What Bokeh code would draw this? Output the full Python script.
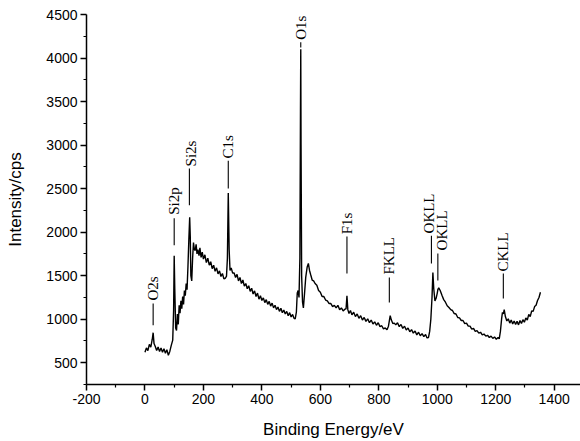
import math
from bokeh.plotting import figure
from bokeh.models import FixedTicker, Range1d, ColumnDataSource
from bokeh.core.properties import value
from bokeh.embed import file_html
from bokeh.resources import INLINE

energy = [0, 5, 10, 15, 20, 25, 28, 31, 35, 40, 45, 50, 55, 60, 65, 70, 75, 80, 85, 90, 95, 98,
          100, 102, 105, 108, 111, 114, 117, 120, 123, 126, 129, 132, 135, 138, 141, 144, 147, 150,
          153, 155, 157, 160, 163, 166, 169, 172, 175, 178, 181, 185, 188, 192, 196, 200, 205, 210,
          215, 220, 225, 230, 235, 240, 245, 250, 255, 260, 265, 270, 275, 279, 282, 285, 288, 291,
          295, 300, 305, 310, 315, 320, 325, 330, 335, 340, 345, 350, 355, 360, 365, 370, 375, 380,
          385, 390, 395, 400, 405, 410, 415, 420, 425, 430, 435, 440, 445, 450, 455, 460, 465, 470,
          475, 480, 485, 490, 495, 500, 505, 510, 514, 518, 521, 524, 527, 530, 532, 533, 534, 536,
          539, 542, 546, 550, 555, 559, 563, 567, 572, 577, 582, 588, 594, 600, 606, 612, 618, 624,
          630, 636, 642, 648, 654, 660, 666, 672, 678, 684, 688, 691, 694, 698, 703, 708, 714, 720,
          726, 732, 738, 744, 750, 756, 762, 768, 774, 780, 786, 792, 798, 804, 810, 816, 822, 828,
          833, 836, 839, 843, 848, 853, 858, 864, 870, 876, 882, 888, 894, 900, 906, 912, 918, 924,
          930, 936, 942, 948, 954, 960, 965, 970, 974, 978, 982, 985, 988, 992, 996, 1000, 1002,
          1005, 1010, 1016, 1022, 1028, 1034, 1040, 1046, 1052, 1058, 1064, 1070, 1076, 1082, 1088,
          1094, 1100, 1106, 1112, 1118, 1124, 1130, 1136, 1142, 1148, 1154, 1160, 1166, 1172, 1178,
          1184, 1190, 1196, 1202, 1208, 1212, 1216, 1220, 1223, 1226, 1229, 1233, 1238, 1243, 1248,
          1253, 1258, 1263, 1268, 1273, 1278, 1283, 1288, 1293, 1298, 1303, 1308, 1313, 1318, 1323,
          1328, 1333, 1338, 1343, 1348, 1353]

intensity = [620, 670, 640, 710, 680, 770, 845, 720, 690, 640, 680, 630, 670, 620, 660, 610, 650, 585, 630, 700, 760, 1100,
             1730, 1350, 900, 870, 1060, 940, 1160, 1070, 1210, 1120, 1260, 1170, 1330, 1270, 1410, 1340, 1600, 1900,
             2170, 1950, 1500, 1440, 1700, 1880, 1800, 1790, 1860, 1750, 1800, 1730, 1820, 1710, 1770, 1690, 1740, 1650,
             1700, 1620, 1660, 1580, 1620, 1550, 1590, 1520, 1555, 1490, 1525, 1465, 1470, 1495, 1700, 2450, 1800, 1560,
             1590, 1530, 1530, 1480, 1515, 1440, 1480, 1410, 1450, 1380, 1410, 1350, 1385, 1320, 1355, 1290, 1325, 1260,
             1300, 1230, 1270, 1215, 1245, 1190, 1225, 1170, 1205, 1150, 1185, 1130, 1160, 1110, 1140, 1090, 1125, 1075,
             1105, 1060, 1090, 1040, 1075, 1025, 1055, 1010, 1005, 1080, 1300, 1330, 1250, 1700, 3400, 4100, 3000, 1500,
             1200, 1130, 1300, 1480, 1600, 1640, 1560, 1510, 1450, 1440, 1410, 1390, 1330, 1310, 1260, 1260, 1220, 1210,
             1180, 1180, 1145, 1160, 1130, 1160, 1110, 1130, 1095, 1115, 1120, 1270, 1110, 1065, 1100, 1050, 1080, 1030,
             1060, 1010, 1040, 990, 1020, 975, 1005, 960, 990, 945, 970, 930, 960, 915, 925, 890, 900, 880, 920,
             980, 1040, 990, 950, 955, 935, 960, 915, 940, 895, 920, 875, 900, 855, 880, 840, 865, 820,
             850, 810, 835, 800, 825, 785, 790, 860, 1000, 1250, 1535, 1350, 1210, 1240, 1300, 1340, 1360,
             1330, 1275, 1225, 1195, 1155, 1135, 1110, 1100, 1065, 1060, 1020, 1015, 985, 985, 950,
             955, 920, 920, 885, 895, 860, 870, 840, 850, 820, 830, 805, 815, 790, 805,
             780, 795, 770, 790, 775, 860, 1000, 1080, 1060, 1110, 1030, 980, 1005, 955, 990,
             945, 980, 940, 975, 935, 985, 950, 995, 965, 1015, 990, 1055, 1030, 1095, 1090,
             1145, 1160, 1215, 1250, 1310, 1370]

peak_names = ["O2s", "Si2p", "Si2s", "C1s", "O1s", "F1s", "FKLL", "OKLL", "OKLL", "CKLL"]
peak_energy = [28, 100, 152, 285, 533, 691, 836, 980, 1002, 1226]
label_energy = [28, 100, 156, 285, 533, 691, 836, 970, 1016, 1226]
marker_low = [930, 1850, 2310, 2500, 4120, 1525, 1192, 1640, 1445, 1238]
marker_high = [1180, 2160, 2730, 2820, 4180, 1950, 1479, 1960, 1755, 1525]
label_base = [1215, 2200, 2755, 2845, 4210, 1975, 1513, 1985, 1790, 1548]

x_ticks = [-200, 0, 200, 400, 600, 800, 1000, 1200, 1400]
y_ticks = [500, 1000, 1500, 2000, 2500, 3000, 3500, 4000, 4500]

p = figure(width=580, height=441, output_backend="svg", toolbar_location=None,
           x_range=Range1d(-200, 1490), y_range=Range1d(250, 4500),
           min_border_left=86, min_border_right=0, min_border_top=14, min_border_bottom=57)
p.outline_line_color = None
p.xgrid.grid_line_color = None
p.ygrid.grid_line_color = None
p.background_fill_color = "white"
p.border_fill_color = "white"

p.line(energy, intensity, line_color="black", line_width=1.4)

p.segment(x0=peak_energy, y0=marker_low, x1=peak_energy, y1=marker_high,
          line_color="black", line_width=1.1)
src = ColumnDataSource(dict(x=label_energy, y=label_base, t=peak_names))
p.text(x="x", y="y", text="t", source=src, angle=math.pi / 2,
       text_align="left", text_baseline="middle",
       text_font=value("Liberation Serif"), text_font_size="15px", text_color="black")

for ax, ticks in ((p.xaxis, x_ticks), (p.yaxis, y_ticks)):
    ax.axis_line_width = 1.5
    ax.axis_line_color = "black"
    ax.major_tick_line_width = 1.5
    ax.minor_tick_line_width = 1.2
    ax.major_tick_in = 0
    ax.major_tick_out = 6
    ax.minor_tick_in = 0
    ax.minor_tick_out = 3
    ax.major_label_text_font = "Liberation Sans"
    ax.major_label_text_font_size = "14px"
    ax.major_label_text_color = "black"
    ax.axis_label_text_font = "Liberation Sans"
    ax.axis_label_text_font_size = "17px"
    ax.axis_label_text_font_style = "normal"
    ax.axis_label_text_color = "black"

p.xaxis.ticker = FixedTicker(ticks=x_ticks, minor_ticks=[t + 100 for t in x_ticks])
p.yaxis.ticker = FixedTicker(ticks=y_ticks, minor_ticks=[250] + [t + 250 for t in y_ticks[:-1]])
p.xaxis.major_label_overrides = {t: str(t) for t in x_ticks}
p.xaxis.axis_label = "Binding Energy/eV"
p.yaxis.axis_label = "Intensity/cps"
p.xaxis.major_label_standoff = 3
p.yaxis.major_label_standoff = 3
p.xaxis.axis_label_standoff = 13
p.yaxis.axis_label_standoff = 18

open("out.html", "w").write(file_html(p, INLINE))
